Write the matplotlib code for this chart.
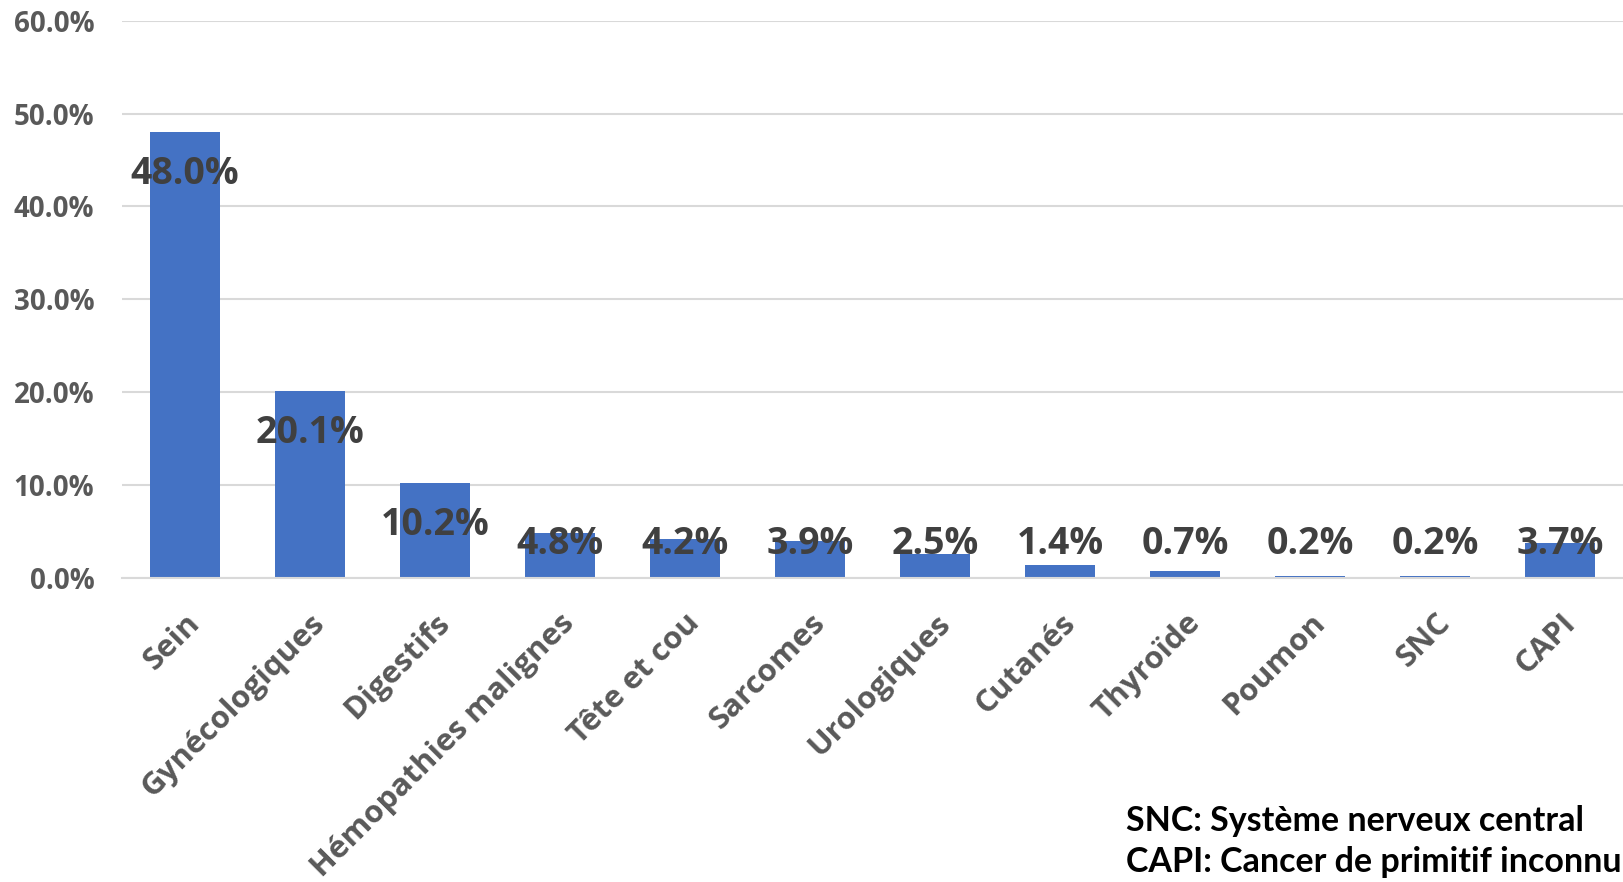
import numpy as np
import matplotlib
matplotlib.use("Agg")
import matplotlib.pyplot as plt
from matplotlib.ticker import FuncFormatter

# Data
categories = ["Sein", "Gynécologiques", "Digestifs", "Hémopathies malignes",
              "Tête et cou", "Sarcomes", "Urologiques", "Cutanés", "Thyroïde",
              "Poumon", "SNC", "CAPI"]
values = [48.0, 20.1, 10.2, 4.8, 4.2, 3.9, 2.5, 1.4, 0.7, 0.2, 0.2, 3.7]
footnote = ["SNC: Système nerveux central", "CAPI: Cancer de primitif inconnu"]

plt.rcParams['font.family'] = ['Open Sans', 'DejaVu Sans']

fig = plt.figure(figsize=(16.23, 8.82), dpi=100)
ax = fig.add_axes([0.0752, 0.3452, 0.9248, 0.6313])

x = np.arange(len(categories))
ax.bar(x, values, width=0.56, color="#4472C4", zorder=2)

ax.set_ylim(0, 60)
ax.set_xlim(-0.5, len(categories) - 0.5)
ax.set_yticks(np.arange(0, 61, 10))
ax.yaxis.set_major_formatter(FuncFormatter(lambda v, p: f"{v:.1f}%"))
ax.grid(axis="y", color="#D9D9D9", linewidth=1.5, zorder=0)
for s in ["top", "right", "left"]:
    ax.spines[s].set_visible(False)
ax.spines["bottom"].set_color("#D9D9D9")
ax.spines["bottom"].set_linewidth(1.5)
ax.tick_params(axis="both", length=0)
ax.tick_params(axis="y", pad=20)

for lab in ax.get_yticklabels():
    lab.set_fontsize(20)
    lab.set_fontweight("bold")
    lab.set_color("#595959")

ax.set_xticks(x)
ax.set_xticklabels(categories, rotation=45, ha="right", rotation_mode="anchor",
                   fontsize=22.5, fontweight="bold", color="#595959")
ax.tick_params(axis="x", pad=22)

# data labels: inside end, but not lower than a floor
for xi, v in zip(x, values):
    ly = max(v - 4.5, 3.6)
    ax.text(xi, ly, f"{v:.1f}%", ha="center", va="center", fontsize=27,
            fontweight="bold", color="#404040", zorder=3)

fig.text(1126 / 1623, 1 - 821 / 882, footnote[0], fontsize=24.5, fontweight="bold",
         color="black", va="center", ha="left", family=["Lato", "DejaVu Sans"])
fig.text(1126 / 1623, 1 - 862 / 882, footnote[1], fontsize=24.5, fontweight="bold",
         color="black", va="center", ha="left", family=["Lato", "DejaVu Sans"])

fig.savefig("out.png", dpi=100)
